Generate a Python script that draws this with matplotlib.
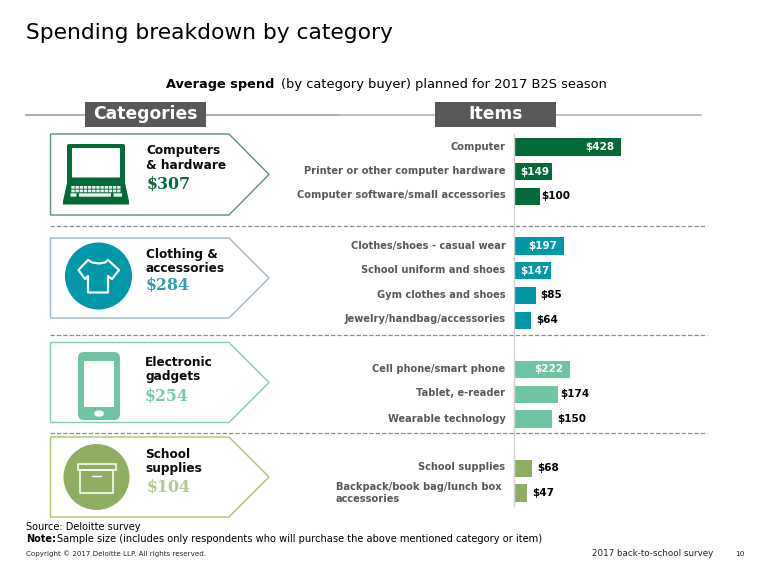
import matplotlib
matplotlib.use("Agg")
import matplotlib.pyplot as plt
from matplotlib.patches import Polygon, Rectangle, Circle, Ellipse, FancyBboxPatch

plt.rcParams['font.family'] = ['DejaVu Sans']

W, H = 773, 577

# ---- data ----
category_names = ["Computers\n& hardware", "Clothing &\naccessories", "Electronic\ngadgets", "School\nsupplies"]
category_values = ["$307", "$284", "$254", "$104"]
computer_items = ["Computer", "Printer or other computer hardware", "Computer software/small accessories"]
computer_spend = [428, 149, 100]
clothing_items = ["Clothes/shoes - casual wear", "School uniform and shoes", "Gym clothes and shoes", "Jewelry/handbag/accessories"]
clothing_spend = [197, 147, 85, 64]
gadget_items = ["Cell phone/smart phone", "Tablet, e-reader", "Wearable technology"]
gadget_spend = [222, 174, 150]
school_items = ["School supplies", "Backpack/book bag/lunch box\naccessories"]
school_spend = [68, 47]

# ---- layout ----
GREEN, TEAL, MINT, OLIVE = "#046A38", "#0097A9", "#6FC5A3", "#8FAE63"
groups = [
    (computer_items, computer_spend, GREEN, [147, 171.5, 196], [17.5, 17, 17]),
    (clothing_items, clothing_spend, TEAL, [246, 270.5, 295, 320], [18, 17, 17, 17]),
    (gadget_items, gadget_spend, MINT, [369, 394, 419], [17, 17, 18]),
    (school_items, school_spend, OLIVE, [468, 493], [17, 18]),
]
inside_label = {428: 600, 149: 535, 197: 542.5, 147: 535, 222: 549}
outside_label = {100: 556, 85: 551, 64: 547.5, 174: 575, 150: 572, 68: 548, 47: 543}

fig = plt.figure(figsize=(W / 100, H / 100), dpi=100, facecolor="white")
ax = fig.add_axes([0, 0, 1, 1])
ax.set_xlim(0, W)
ax.set_ylim(H, 0)
ax.axis("off")
ax.set_zorder(2)

# bars axes: x in dollars, y in pixels
PX_PER_DOLLAR = 106 / 428
bx0 = 515
bar_ax = fig.add_axes([bx0 / W, 0, (W - bx0) / W, 1])
bar_ax.set_xlim(0, (W - bx0) / PX_PER_DOLLAR)
bar_ax.set_ylim(H, 0)
bar_ax.axis("off")
bar_ax.set_zorder(1)

# titles
ax.text(26, 33, "Spending breakdown by category", fontsize=15.65, color="black", va="center", ha="left")
ax.text(166, 84.5, "Average spend", fontsize=9.3, fontweight="bold", va="center", ha="left")
ax.text(281, 84.5, "(by category buyer) planned for 2017 B2S season", fontsize=9.4, va="center", ha="left")

# headers
ax.plot([26, 340], [114.5, 114.5], color="#9A9A9A", lw=1.1, zorder=1)
ax.plot([340, 701], [114.5, 114.5], color="#B4B4B4", lw=1.2, zorder=1)
for x0, label in [(85, "Categories"), (435, "Items")]:
    ax.add_patch(Rectangle((x0, 102), 121, 25, fc="#58585A", ec="none", zorder=2))
    ax.text(x0 + 60.5, 114, label, color="white", fontsize=12.3, fontweight="bold", ha="center", va="center", zorder=3)

# dashed separators
for y in [226, 335, 433]:
    ax.plot([50, 707], [y, y], color="#8E8E8E", lw=0.9, dashes=(3.5, 1.6), zorder=1)
ax.plot([514, 514], [134, 506], color="#D2D2D2", lw=1, zorder=1)

# pentagons
pent = [(134, 215, "#5E9078"), (238, 318, "#9DB6CA"), (342.5, 422.5, "#84CBB0"), (437, 517, "#A8C46E")]
for (y0, y1, ec) in pent:
    ym = (y0 + y1) / 2
    ax.add_patch(Polygon([(50.5, y0), (229, y0), (269, ym), (229, y1), (50.5, y1)], closed=True, fc="white", ec=ec, lw=1))

# category text
txt_cols = [GREEN, "#2B9FAF", "#7CCBAB", "#B5C993"]
name_xy = [(146, 158), (146, 261.5), (145, 369.5), (145, 461.5)]
val_xy = [(147, 184.5), (146, 286), (145, 396.5), (147, 487.5)]
for name, val, col, (nx, ny), (vx, vy) in zip(category_names, category_values, txt_cols, name_xy, val_xy):
    ax.text(nx, ny, name, fontsize=8.75, fontweight="bold", color="#0B0B0B", ha="left", va="center", linespacing=1.15)
    ax.text(vx, vy, val, fontsize=11.4, fontweight="bold", family="DejaVu Serif", color=col, ha="left", va="center")

# laptop icon
ax.add_patch(FancyBboxPatch((68, 145), 56, 44, boxstyle="round,pad=1,rounding_size=2", fc=GREEN, ec="none"))
ax.add_patch(Rectangle((72, 148), 48, 29.5, fc="white", ec="none", snap=False))
ax.add_patch(Polygon([(67, 183), (125, 183), (129, 201), (129, 204.5), (63, 204.5), (63, 201)], closed=True, fc=GREEN, ec="none"))
for yk, xa, xb, n in [(186, 71, 121, 12), (189.6, 71, 121, 12)]:
    w = (xb - xa) / n
    for i in range(n):
        ax.add_patch(Rectangle((xa + i * w + 0.3, yk), w - 0.8, 2.7, fc="#E8F2EC", ec="none", snap=False))
for xa, xb in [(70.5, 76.5), (79, 111), (113.5, 122)]:
    ax.add_patch(Rectangle((xa, 193.3), xb - xa, 3.4, fc="#E8F2EC", ec="none", snap=False))

# shirt icon
ax.add_patch(Circle((98.5, 276), 33.5, fc=TEAL, ec="none"))
shirt = [(88, 260), (92, 262.5), (99, 263.5), (105, 262.5), (108, 260), (119, 270), (112, 279), (108, 276),
         (108, 292.5), (88, 292.5), (88, 276), (85, 279), (78.5, 270)]
ax.add_patch(Polygon(shirt, closed=True, fc="none", ec="white", lw=1.6, joinstyle="round"))

# phone icon
ax.add_patch(FancyBboxPatch((81, 355), 36, 62, boxstyle="round,pad=3,rounding_size=6", fc=MINT, ec="none"))
ax.add_patch(Rectangle((84, 361), 30, 46, fc="white", ec="none"))
ax.add_patch(Ellipse((99, 413.5), 10, 6.5, fc="white", ec="none"))

# box icon
ax.add_patch(Circle((96.5, 477), 33, fc=OLIVE, ec="none"))
ax.add_patch(Rectangle((77.5, 463.5), 38, 6, fc="none", ec="white", lw=1.1))
ax.add_patch(Rectangle((80, 469.5), 33, 23.5, fc="none", ec="white", lw=1.1))
ax.plot([92, 101], [476, 476], color="white", lw=1)

# bars and labels
for items, spend, col, ys, hs in groups:
    bar_ax.barh(ys, spend, height=hs, color=col, edgecolor="none")
    for item, v, y in zip(items, spend, ys):
        if "\n" in item:
            ax.text(336, y + 0.5, item, fontsize=7.1, fontweight="bold", color="#58585A", ha="left", va="center", linespacing=1.25,
                    multialignment="left")
        else:
            ax.text(505.5, y - 0.5, item, fontsize=7.1, fontweight="bold", color="#58585A", ha="right", va="center")
        if v in inside_label:
            ax.text(inside_label[v], y + 0.3, f"${v}", fontsize=7.5, fontweight="bold", color="white",
                    ha="center", va="center", zorder=5)
        else:
            ax.text(outside_label[v], y, f"${v}", fontsize=7.5, fontweight="bold", color="black", ha="center", va="center", zorder=5)

# footer
ax.text(26, 527.5, "Source: Deloitte survey", fontsize=7.03, color="black", ha="left", va="center")
ax.text(26, 539.5, "Note:", fontsize=7.03, color="black", ha="left", va="center", fontweight="bold")
ax.text(57, 539.5, "Sample size (includes only respondents who will purchase the above mentioned category or item)", fontsize=7.1,
        color="black", ha="left", va="center")
ax.text(26, 553.5, "Copyright © 2017 Deloitte LLP. All rights reserved.", fontsize=5.1, color="#222222", ha="left", va="center")
ax.text(592, 553.5, "2017 back-to-school survey", fontsize=6.3, color="#222222", ha="left", va="center")
ax.text(735, 553.5, "10", fontsize=5.3, color="#222222", ha="left", va="center")

fig.savefig("out.png", dpi=100, facecolor="white")
